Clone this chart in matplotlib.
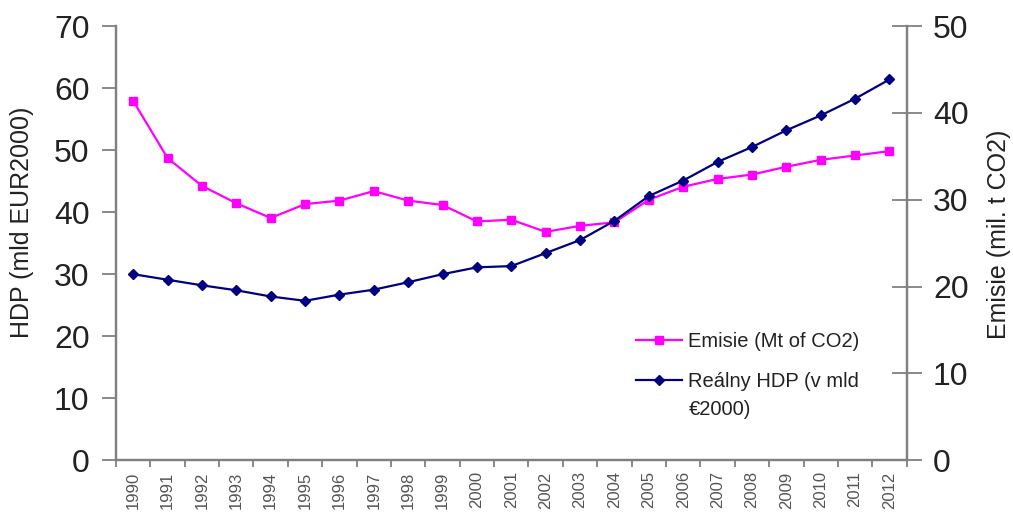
import matplotlib
matplotlib.use("Agg")
import matplotlib.pyplot as plt

plt.rcParams['font.family'] = ['Liberation Sans', 'DejaVu Sans']

years = [str(y) for y in range(1990, 2013)]

# Real GDP, bn EUR (2000 prices) - left axis
hdp = [30.0, 29.1, 28.2, 27.4, 26.4, 25.7, 26.7, 27.5, 28.7, 30.0, 31.1, 31.3,
       33.4, 35.5, 38.6, 42.6, 45.1, 48.1, 50.5, 53.2, 55.6, 58.3, 61.4]

# CO2 emissions, Mt - right axis
emisie = [41.4, 34.8, 31.6, 29.6, 27.9, 29.5, 29.9, 31.0, 29.9, 29.4, 27.5, 27.7,
          26.3, 27.0, 27.4, 30.0, 31.5, 32.4, 32.9, 33.8, 34.6, 35.1, 35.6]

left_ticks = [0, 10, 20, 30, 40, 50, 60, 70]
right_ticks = [0, 10, 20, 30, 40, 50]

label_emisie = "Emisie (Mt of CO2)"
label_hdp = "Reálny HDP (v mld"
label_hdp_cont = "€2000)"

MAGENTA = "#FF00FF"
NAVY = "#000080"
AXIS_GREY = "#808080"
TEXT = "#222222"

fig = plt.figure(figsize=(10.13, 5.13), dpi=100)
ax = fig.add_axes([0.1145, 0.103, 0.7805, 0.846])
ax2 = ax.twinx()

x = list(range(len(years)))

l_hdp, = ax.plot(x, hdp, color=NAVY, lw=1.6, marker="D", ms=5.2,
                 mfc=NAVY, mec=NAVY, zorder=3, label=label_hdp)
l_em, = ax2.plot(x, emisie, color=MAGENTA, lw=1.6, marker="s", ms=6.3,
                 mfc=MAGENTA, mec=MAGENTA, zorder=3, label=label_emisie)
ax.set_zorder(ax2.get_zorder() + 1)
ax.patch.set_visible(False)

ax.set_xlim(-0.5, len(years) - 0.5)
ax.set_ylim(0, 70)
ax2.set_ylim(0, 50)
ax.set_yticks(left_ticks)
ax2.set_yticks(right_ticks)
ax.set_xticks(x)
ax.set_xticklabels(years, rotation=90, fontsize=12, color="#555555")
ax.set_xticks([i - 0.5 for i in range(len(years) + 1)], minor=True)
ax.tick_params(axis="x", which="major", length=0, pad=8)
ax.tick_params(axis="x", which="minor", length=5, width=1.3, color=AXIS_GREY,
               direction="out")

ax.tick_params(axis="y", length=10, width=1.3, color=AXIS_GREY, direction="out",
               labelsize=23, pad=9, labelcolor=TEXT)
ax2.tick_params(axis="y", length=22, width=1.3, color=AXIS_GREY, direction="inout",
                labelsize=23, pad=8, labelcolor=TEXT)

for a in (ax, ax2):
    a.spines["top"].set_visible(False)
    for s in ("left", "right", "bottom"):
        a.spines[s].set_color(AXIS_GREY)
        a.spines[s].set_linewidth(1.6)

fig.text(22 / 1013, 1 - 222 / 513, "HDP (mld EUR2000)", rotation=90,
         ha="center", va="center", fontsize=18, color=TEXT)
fig.text(999 / 1013, 1 - 234 / 513, "Emisie (mil. t CO2)", rotation=90,
         ha="center", va="center", fontsize=18, color=TEXT)

leg = ax.legend(handles=[l_em, l_hdp], loc="upper left",
                bbox_to_anchor=(636 / 1013, 1 - 332 / 513),
                bbox_transform=fig.transFigure, frameon=False,
                fontsize=14.5, handlelength=2.3, handletextpad=0.3,
                labelspacing=1.05, borderpad=0, borderaxespad=0)
for t in leg.get_texts():
    t.set_color(TEXT)

# continuation line of the GDP legend label
fig.canvas.draw()
renderer = fig.canvas.get_renderer()
bb = leg.get_texts()[1].get_window_extent(renderer)
fig.text(bb.x0 / fig.bbox.width, (bb.y0 - 9) / fig.bbox.height, label_hdp_cont,
         ha="left", va="top", fontsize=14.5, color=TEXT)

fig.savefig("out.png", dpi=100)
